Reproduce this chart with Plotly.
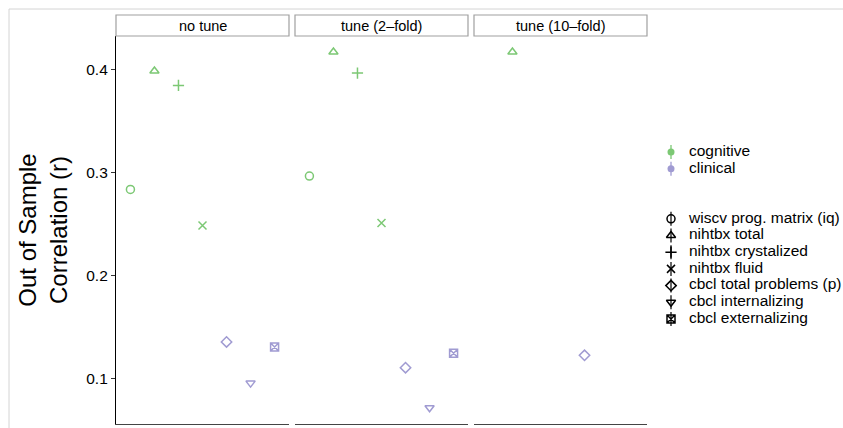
import plotly.graph_objects as go

# Outcome measures (x categories within each panel)
measures = [
    "wiscv prog. matrix (iq)",
    "nihtbx total",
    "nihtbx crystalized",
    "nihtbx fluid",
    "cbcl total problems (p)",
    "cbcl internalizing",
    "cbcl externalizing",
]
domains = ["cognitive", "cognitive", "cognitive", "cognitive",
           "clinical", "clinical", "clinical"]
domain_names = ["cognitive", "clinical"]

panels = ["no tune", "tune (2\u2013fold)", "tune (10\u2013fold)"]

# Out-of-sample correlation for each panel (None = not estimated)
r_no_tune = [0.284, 0.399, 0.385, 0.249, 0.136, 0.096, 0.131]
r_tune_2fold = [0.297, 0.4175, 0.397, 0.2515, 0.111, 0.072, 0.125]
r_tune_10fold = [None, 0.4175, None, None, 0.123, None, None]
panel_values = [r_no_tune, r_tune_2fold, r_tune_10fold]

y_ticks = [0.1, 0.2, 0.3, 0.4]

domain_colors = {"cognitive": "#7cc874", "clinical": "#a09bd2"}
measure_symbols = ["circle-open", "triangle-up-open", "cross-thin-open",
                   "x-thin-open", "diamond-open", "triangle-down-open",
                   "square-x-open"]

# page geometry (pixels)
W, H = 843, 428
L, R, T, B = 116, 0, 36, 4
panel_w, gap = 173, 6
plot_w = W - L - R
plot_h = H - T - B
STRIP_TOP = 15

FONT = "Liberation Sans, Arial, Helvetica, sans-serif"


def px_x(p):
    return (p - L) / plot_w


def px_y(p):
    return (H - B - p) / plot_h


fig = go.Figure()

for i, (name, vals) in enumerate(zip(panels, panel_values)):
    xa = "x" if i == 0 else f"x{i + 1}"
    ya = "y" if i == 0 else f"y{i + 1}"
    cols = [domain_colors[d] for d in domains]
    fig.add_trace(go.Scatter(
        x=measures, y=vals, mode="markers", xaxis=xa, yaxis=ya,
        showlegend=False, hoverinfo="x+y",
        marker=dict(symbol=measure_symbols, size=8, color=cols,
                    line=dict(width=1.5, color=cols)),
    ))

# ---- keys drawn on a hidden side axis (rows run top to bottom) ----
ROW_PX = 16.7          # row pitch of the keys
FIRST_ROW_PX = 152     # centre of first key row
KEY_X_PX = 671         # glyph column
LABEL_GAP_PX = 18      # glyph-to-label distance
AX_LEFT_PX = 650
KEY_FONT = 15.5

colour_rows = list(range(len(domain_names)))
shape_rows = [len(domain_names) + 2 + k for k in range(len(measures))]

key_kw = dict(xaxis="x4", yaxis="y4", showlegend=False, hoverinfo="skip",
              cliponaxis=False)
# colour key: dot with a short vertical bar
for d, row in zip(domain_names, colour_rows):
    fig.add_trace(go.Scatter(
        x=[0], y=[row], mode="markers",
        marker=dict(symbol="circle", size=7, color=domain_colors[d]),
        error_y=dict(type="constant", value=0.42, width=0, thickness=1.3,
                     color=domain_colors[d]),
        **key_kw))
fig.add_trace(go.Scatter(
    x=[LABEL_GAP_PX] * len(domain_names), y=colour_rows, mode="text",
    text=domain_names, textposition="middle right",
    textfont=dict(size=KEY_FONT, color="black"), **key_kw))
# shape key
fig.add_trace(go.Scatter(
    x=[0] * len(measures), y=shape_rows, mode="markers",
    marker=dict(symbol=measure_symbols, size=8, color="black",
                line=dict(width=1.5, color="black")),
    error_y=dict(type="constant", value=0.42, width=0, thickness=1.2,
                 color="black"),
    **key_kw))
fig.add_trace(go.Scatter(
    x=[LABEL_GAP_PX] * len(measures), y=shape_rows, mode="text",
    text=measures, textposition="middle right",
    textfont=dict(size=KEY_FONT, color="black"), **key_kw))

layout = dict(
    width=W, height=H,
    margin=dict(l=L, r=R, t=T, b=B),
    plot_bgcolor="white", paper_bgcolor="white",
    font=dict(family=FONT, color="black", size=14),
    showlegend=False,
)

shapes = []
annotations = []
for i, name in enumerate(panels):
    x0 = px_x(L + i * (panel_w + gap))
    x1 = px_x(L + i * (panel_w + gap) + panel_w)
    suffix = "" if i == 0 else str(i + 1)
    layout[f"xaxis{suffix}"] = dict(
        domain=[x0, x1], type="category", range=[-0.6, 6.6],
        showticklabels=False, ticks="", showgrid=False, zeroline=False,
        showline=True, linecolor="#444444", linewidth=1.2,
        anchor="y" + suffix, fixedrange=True,
    )
    layout[f"yaxis{suffix}"] = dict(
        domain=[0, 1], range=[0.0563, 0.433], showgrid=False,
        zeroline=False, anchor="x" + suffix,
        matches=None if i == 0 else "y",
        showticklabels=(i == 0), tickvals=y_ticks,
        ticktext=[f"{v:.1f}" for v in y_ticks],
        ticks="outside" if i == 0 else "", ticklen=4, tickwidth=1,
        tickcolor="#333333", tickfont=dict(size=15.5),
        showline=(i == 0), linecolor="black", linewidth=1.2,
    )
    # facet strip
    shapes.append(dict(type="rect", xref="paper", yref="paper",
                       x0=x0, x1=x1, y0=1.0, y1=px_y(STRIP_TOP),
                       line=dict(color="#a0a0a0", width=1.2),
                       fillcolor="white"))
    annotations.append(dict(text=name, xref="paper", yref="paper",
                            x=(x0 + x1) / 2, y=(1.0 + px_y(STRIP_TOP)) / 2,
                            showarrow=False, font=dict(size=14.5),
                            xanchor="center", yanchor="middle"))

# hidden axis holding the keys
top_row = (T - FIRST_ROW_PX) / ROW_PX
bottom_row = (H - B - FIRST_ROW_PX) / ROW_PX
layout["xaxis4"] = dict(domain=[px_x(AX_LEFT_PX), 1],
                        range=[AX_LEFT_PX - KEY_X_PX, W - KEY_X_PX],
                        visible=False, fixedrange=True, anchor="y4")
layout["yaxis4"] = dict(domain=[0, 1], range=[bottom_row, top_row],
                        visible=False, fixedrange=True, anchor="x4")

# light outer frame
shapes.append(dict(type="rect", xref="paper", yref="paper",
                   x0=px_x(9), x1=px_x(W + 20), y0=-0.2, y1=px_y(9),
                   line=dict(color="#d4d4d4", width=1), layer="below"))

layout["yaxis"]["title"] = dict(text="Out of Sample<br>Correlation (r)",
                                font=dict(size=24), standoff=11)
layout["shapes"] = shapes
layout["annotations"] = annotations

fig.update_layout(**layout)
fig.write_html("out.html")
